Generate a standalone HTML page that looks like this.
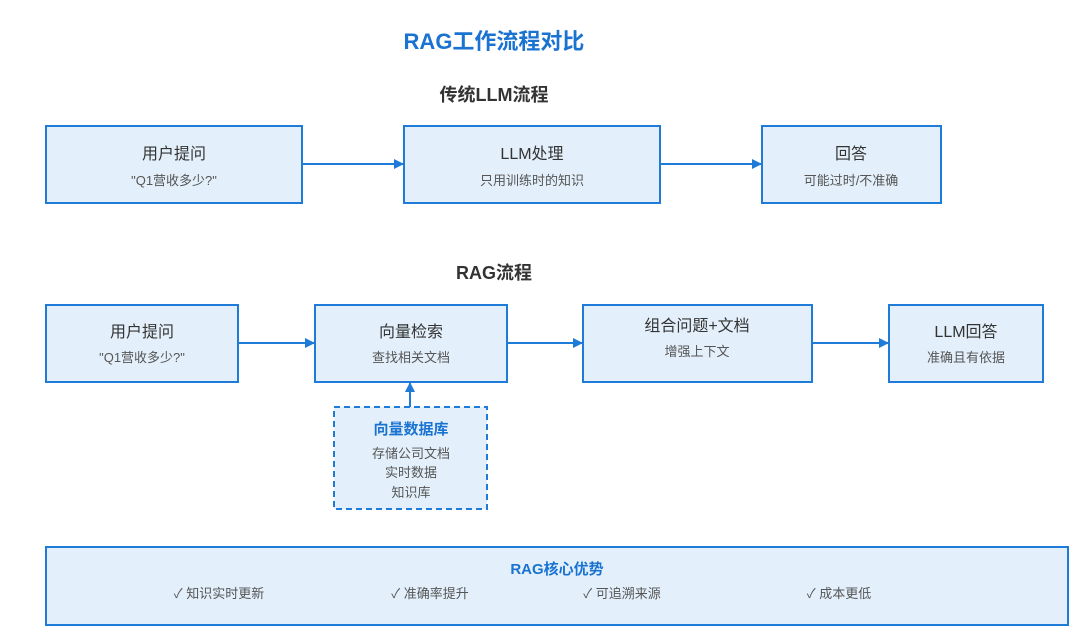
<!DOCTYPE html>
<html><head><meta charset="utf-8"><style>
body{margin:0;background:#fff}
text{font-family:"Liberation Sans","Noto Sans CJK SC",sans-serif}
</style></head><body>
<svg width="1080" height="636" xmlns="http://www.w3.org/2000/svg">
<defs><marker id="a" markerWidth="10" markerHeight="10" refX="9" refY="5" orient="auto" markerUnits="userSpaceOnUse"><path d="M0,0 L10,5 L0,10 z" fill="#1e7bd7"/></marker></defs>
<g fill="#e3f0fb" stroke="#1e7bd7" stroke-width="2">
<rect x="46" y="126" width="256" height="77"/>
<rect x="404" y="126" width="256" height="77"/>
<rect x="762" y="126" width="179" height="77"/>
<rect x="46" y="305" width="192" height="77"/>
<rect x="315" y="305" width="192" height="77"/>
<rect x="583" y="305" width="229" height="77"/>
<rect x="889" y="305" width="154" height="77"/>
<rect x="334" y="407" width="153" height="102" stroke-dasharray="6,4"/>
<rect x="46" y="547" width="1022" height="78"/>
</g>
<g stroke="#1e7bd7" stroke-width="2" marker-end="url(#a)">
<line x1="302" y1="164" x2="403" y2="164"/>
<line x1="660" y1="164" x2="761" y2="164"/>
<line x1="238" y1="343" x2="314" y2="343"/>
<line x1="507" y1="343" x2="582" y2="343"/>
<line x1="812" y1="343" x2="888" y2="343"/>
<line x1="410" y1="407" x2="410" y2="383"/>
</g>
<g text-anchor="middle">
<text x="494" y="49" font-size="22" font-weight="bold" fill="#1a73d0">RAG工作流程对比</text>
<text x="494" y="101" font-size="18" font-weight="bold" fill="#333">传统LLM流程</text>
<text x="494" y="279" font-size="18" font-weight="bold" fill="#333">RAG流程</text>
<g font-size="16" fill="#333">
<text x="174" y="159">用户提问</text><text x="532" y="159">LLM处理</text><text x="851" y="159">回答</text>
<text x="142" y="337">用户提问</text><text x="411" y="337">向量检索</text><text x="697" y="331">组合问题+文档</text><text x="966" y="337">LLM回答</text>
</g>
<g font-size="13" fill="#555">
<text x="174" y="185">"Q1营收多少?"</text><text x="532" y="185">只用训练时的知识</text><text x="851" y="185">可能过时/不准确</text>
<text x="142" y="362">"Q1营收多少?"</text><text x="411" y="362">查找相关文档</text><text x="697" y="356">增强上下文</text><text x="966" y="362">准确且有依据</text>
<text x="411" y="458">存储公司文档</text><text x="411" y="477">实时数据</text><text x="411" y="497">知识库</text>
<text x="219" y="598">✓ 知识实时更新</text><text x="430" y="598">✓ 准确率提升</text><text x="622" y="598">✓ 可追溯来源</text><text x="839" y="598">✓ 成本更低</text>
</g>
<text x="411" y="434" font-size="15" font-weight="bold" fill="#1a73d0">向量数据库</text>
<text x="557" y="574" font-size="15" font-weight="bold" fill="#1a73d0">RAG核心优势</text>
</g>
</svg>
</body></html>
